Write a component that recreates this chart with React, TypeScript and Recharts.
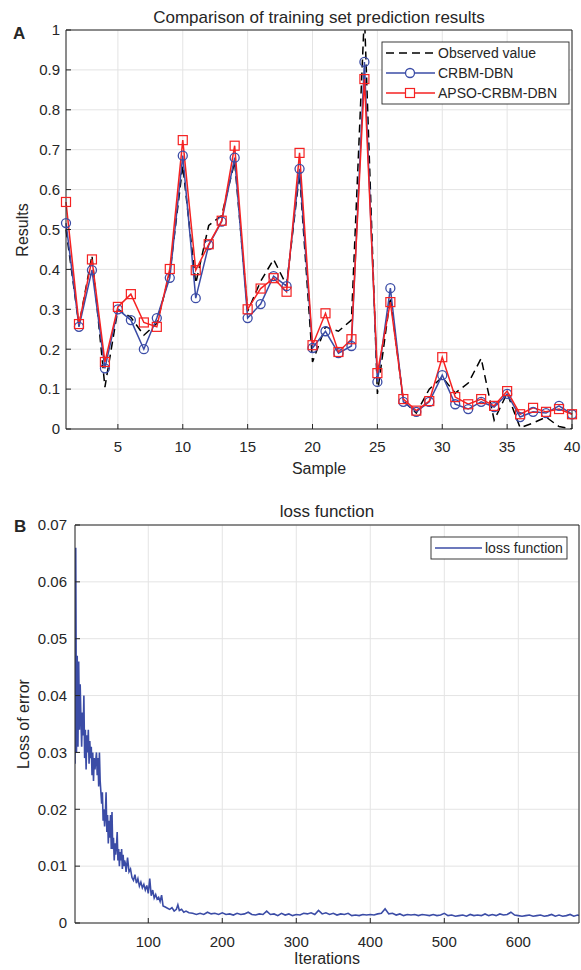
import React from 'react';
import {
  LineChart,
  Line,
  XAxis,
  YAxis,
  CartesianGrid,
  Customized
} from 'recharts';

const FONT = '"Liberation Sans", Arial, Helvetica, sans-serif';
const INK = '#262626';
const GRID = '#e4e4e4';
const BLUE = '#3b4ca6';
const RED = '#f52222';

// ---- chart A: training set prediction ----
const sampleIds = [
  1, 2, 3, 4, 5, 6, 7, 8, 9, 10, 11, 12, 13, 14, 15, 16, 17, 18, 19, 20,
  21, 22, 23, 24, 25, 26, 27, 28, 29, 30, 31, 32, 33, 34, 35, 36, 37, 38, 39, 40
];
const observedValues = [
  0.50, 0.26, 0.435, 0.105, 0.30, 0.28, 0.235, 0.265, 0.39, 0.66,
  0.365, 0.51, 0.535, 0.67, 0.295, 0.37, 0.425, 0.36, 0.64, 0.168,
  0.256, 0.245, 0.273, 1.04, 0.088, 0.33, 0.07, 0.04, 0.10, 0.13,
  0.09, 0.115, 0.177, 0.022, 0.09, 0.003, 0.015, 0.03, 0.006, 0.0
];
const crbmValues = [
  0.516, 0.256, 0.398, 0.152, 0.300, 0.273, 0.200, 0.278, 0.379, 0.685,
  0.328, 0.461, 0.520, 0.680, 0.278, 0.313, 0.383, 0.358, 0.652, 0.203,
  0.245, 0.190, 0.208, 0.920, 0.118, 0.353, 0.068, 0.043, 0.068, 0.135,
  0.062, 0.050, 0.068, 0.055, 0.088, 0.030, 0.043, 0.040, 0.058, 0.037
];
const apsoValues = [
  0.569, 0.263, 0.425, 0.168, 0.306, 0.338, 0.267, 0.256, 0.401, 0.724,
  0.398, 0.463, 0.522, 0.710, 0.300, 0.352, 0.378, 0.344, 0.692, 0.210,
  0.290, 0.193, 0.225, 0.877, 0.140, 0.318, 0.075, 0.046, 0.070, 0.180,
  0.080, 0.062, 0.075, 0.058, 0.095, 0.037, 0.053, 0.043, 0.050, 0.037
];
const sampleTicks = [5, 10, 15, 20, 25, 30, 35, 40];
const resultTicks = [0, 0.1, 0.2, 0.3, 0.4, 0.5, 0.6, 0.7, 0.8, 0.9, 1];

// ---- chart B: loss function ----
const lossIterations = [
  1, 2, 3, 4, 5, 6, 7, 8, 9, 10, 11, 12, 13, 14, 15, 16, 17, 18, 19, 20,
  21, 22, 23, 24, 25, 26, 27, 28, 30, 31, 32, 33, 34, 35, 36, 37, 38, 39, 40,
  41, 42, 43, 44, 45, 46, 47, 48, 49, 50, 51, 52, 53, 54, 55, 56, 57, 58, 59, 60,
  61, 62, 63, 64, 65, 66, 67, 68, 69, 70, 72, 74, 76, 78, 80, 82, 84, 86, 88, 90,
  92, 94, 96, 98, 100, 102, 104, 106, 108, 110, 112, 114, 116, 118, 120, 123, 126,
  129, 132, 135, 138, 140, 142, 145, 148, 151, 155, 160, 165, 170, 175, 180, 185,
  190, 195, 200, 205, 210, 215, 220, 225, 230, 235, 240, 245, 250, 255, 260, 265,
  270, 275, 280, 285, 290, 295, 300, 305, 310, 315, 320, 325, 330, 335, 340, 345,
  350, 355, 360, 365, 370, 375, 380, 385, 390, 395, 400, 405, 410, 415, 420, 425,
  430, 435, 440, 445, 450, 455, 460, 465, 470, 475, 480, 485, 490, 495, 500, 505,
  510, 515, 520, 525, 530, 535, 540, 545, 550, 555, 560, 565, 570, 575, 580, 585,
  590, 595, 600, 605, 610, 615, 620, 625, 630, 635, 640, 645, 650, 655, 660, 665,
  670, 675, 680, 682
];
const lossValues = [
  0.028, 0.066, 0.030, 0.047, 0.031, 0.046, 0.034, 0.042, 0.036, 0.031,
  0.037, 0.033, 0.040, 0.029, 0.034, 0.027, 0.033, 0.030, 0.034, 0.028,
  0.032, 0.029, 0.031, 0.026, 0.030, 0.025, 0.029, 0.027, 0.030, 0.026,
  0.029, 0.024, 0.030, 0.025, 0.023, 0.021, 0.023, 0.018, 0.020,
  0.017, 0.019, 0.023, 0.016, 0.019, 0.014, 0.018, 0.015, 0.019, 0.013,
  0.0195, 0.013, 0.015, 0.011, 0.014, 0.012, 0.0135, 0.016, 0.011, 0.013,
  0.010, 0.0125, 0.011, 0.013, 0.0095, 0.012, 0.010, 0.011, 0.0105, 0.009,
  0.0115, 0.009, 0.0095, 0.008, 0.0075, 0.0085, 0.007, 0.0078, 0.0065, 0.0072,
  0.0062, 0.0068, 0.0058, 0.0066, 0.0052, 0.0078, 0.0048, 0.0058, 0.0044, 0.005,
  0.0042, 0.0045, 0.0038, 0.0049, 0.0030, 0.0028, 0.0026,
  0.0024, 0.0027, 0.0021, 0.0024, 0.0032, 0.0022, 0.0024, 0.0019, 0.0021, 0.0018,
  0.0017, 0.0015, 0.0017, 0.0015, 0.0019, 0.0016,
  0.0017, 0.0015, 0.0018, 0.0015, 0.0016, 0.0014, 0.0017, 0.0015, 0.0016, 0.0019,
  0.0015, 0.0014, 0.0016, 0.0015, 0.0021, 0.0015,
  0.0016, 0.0013, 0.0017, 0.0014, 0.0016, 0.0013, 0.0015, 0.0014, 0.0017, 0.0016,
  0.0018, 0.0015, 0.0022, 0.0016, 0.0018, 0.0015,
  0.0017, 0.0014, 0.0016, 0.0015, 0.0017, 0.0013, 0.0014, 0.0013, 0.0015, 0.0014,
  0.0015, 0.0014, 0.0016, 0.0017, 0.0025, 0.0016,
  0.0017, 0.0014, 0.0016, 0.0013, 0.0015, 0.0014, 0.0015, 0.0013, 0.0015, 0.0014,
  0.0013, 0.0015, 0.0013, 0.0014, 0.0017, 0.0013,
  0.0014, 0.0012, 0.0013, 0.0014, 0.0012, 0.0015, 0.0013, 0.0014, 0.0013, 0.0016,
  0.0013, 0.0015, 0.0013, 0.0016, 0.0014, 0.0015,
  0.0019, 0.0014, 0.0013, 0.0012, 0.0013, 0.0014, 0.0012, 0.0013, 0.0014, 0.0012,
  0.0013, 0.0015, 0.0012, 0.0014, 0.0012, 0.0013,
  0.0015, 0.0012, 0.0014, 0.0013
];
const iterationTicks = [100, 200, 300, 400, 500, 600];
const lossTicks = [0, 0.01, 0.02, 0.03, 0.04, 0.05, 0.06, 0.07];

const predictionRows = sampleIds.map((s, i) => ({
  sample: s,
  observed: observedValues[i],
  crbm: crbmValues[i],
  apso: apsoValues[i]
}));

const lossRows = lossIterations.map((it, i) => ({ it, loss: lossValues[i] }));

const tickStyle = { fontSize: 15, fill: INK, fontFamily: FONT };

const SquareDot = (props: any) => {
  const { cx, cy, index } = props;
  if (cx == null || cy == null) return <g key={index} />;
  return (
    <rect key={index} x={cx - 4.5} y={cy - 4.5} width={9} height={9}
      fill="none" stroke={RED} strokeWidth={1.2} />
  );
};

const TopOverlay = () => (
  <g fontFamily={FONT} fill={INK}>
    <text x={319} y={23} textAnchor="middle" fontSize={17}>
      Comparison of training set prediction results
    </text>
    <text x={13} y={39} fontSize={17} fontWeight="bold">A</text>
    <text x={319} y={474} textAnchor="middle" fontSize={16}>Sample</text>
    <text transform="translate(28,230) rotate(-90)" textAnchor="middle" fontSize={16}>Results</text>
    <rect x={382} y={42} width={187} height={62} fill="#fff" stroke={INK} strokeWidth={0.9} />
    <line x1={386} x2={435} y1={53} y2={53} stroke="#000" strokeWidth={1.5} strokeDasharray="8 5" />
    <text x={438} y={58} fontSize={14}>Observed value</text>
    <line x1={386} x2={435} y1={73} y2={73} stroke={BLUE} strokeWidth={1.5} />
    <circle cx={410} cy={73} r={4.5} fill="#fff" stroke={BLUE} strokeWidth={1.3} />
    <text x={438} y={78} fontSize={14}>CRBM-DBN</text>
    <line x1={386} x2={435} y1={93} y2={93} stroke={RED} strokeWidth={1.5} />
    <rect x={405.5} y={88.5} width={9} height={9} fill="#fff" stroke={RED} strokeWidth={1.2} />
    <text x={438} y={98} fontSize={14}>APSO-CRBM-DBN</text>
  </g>
);

const BottomOverlay = () => (
  <g fontFamily={FONT} fill={INK}>
    <text x={327} y={27} textAnchor="middle" fontSize={17}>loss function</text>
    <text x={14} y={42} fontSize={17} fontWeight="bold">B</text>
    <text x={327} y={474} textAnchor="middle" fontSize={16}>Iterations</text>
    <text transform="translate(29,234) rotate(-90)" textAnchor="middle" fontSize={16}>Loss of error</text>
    <rect x={431} y={47} width={136} height={22} fill="#fff" stroke={INK} strokeWidth={0.9} />
    <line x1={435} x2={482} y1={58} y2={58} stroke={BLUE} strokeWidth={1.5} />
    <text x={485} y={63} fontSize={14}>loss function</text>
  </g>
);

export default function App() {
  return (
    <div style={{ position: 'absolute', left: 0, top: 0, width: 581, height: 970, background: '#fff' }}>
      <LineChart
        width={581}
        height={480}
        data={predictionRows}
        margin={{ top: 29, right: 8, left: 0, bottom: 0 }}
      >
        <CartesianGrid stroke={GRID} strokeWidth={1} />
        <XAxis
          dataKey="sample"
          type="number"
          domain={[1, 40]}
          ticks={sampleTicks}
          interval={0}
          height={51}
          tick={tickStyle}
          tickSize={-5}
          tickMargin={17}
          axisLine={{ stroke: INK }}
          tickLine={{ stroke: INK }}
        />
        <XAxis
          xAxisId="top"
          orientation="top"
          type="number"
          domain={[1, 40]}
          ticks={sampleTicks}
          interval={0}
          height={1}
          tick={false}
          tickSize={-5}
          axisLine={{ stroke: INK }}
          tickLine={{ stroke: INK }}
        />
        <YAxis
          type="number"
          domain={[0, 1]}
          ticks={resultTicks}
          interval={0}
          allowDataOverflow
          width={66}
          tick={tickStyle}
          tickSize={-5}
          tickMargin={11}
          axisLine={{ stroke: INK }}
          tickLine={{ stroke: INK }}
        />
        <YAxis
          yAxisId="right"
          orientation="right"
          type="number"
          domain={[0, 1]}
          ticks={resultTicks}
          interval={0}
          width={1}
          tick={false}
          tickSize={-5}
          axisLine={{ stroke: INK }}
          tickLine={{ stroke: INK }}
        />
        <Line
          type="linear"
          dataKey="observed"
          stroke="#000"
          strokeWidth={1.5}
          strokeDasharray="8 5"
          dot={false}
          isAnimationActive={false}
        />
        <Line
          type="linear"
          dataKey="crbm"
          stroke={BLUE}
          strokeWidth={1.5}
          dot={{ r: 4.5, fill: 'none', stroke: BLUE, strokeWidth: 1.3 }}
          isAnimationActive={false}
        />
        <Line
          type="linear"
          dataKey="apso"
          stroke={RED}
          strokeWidth={1.5}
          dot={SquareDot}
          isAnimationActive={false}
        />
        <Customized component={TopOverlay} />
      </LineChart>

      <div style={{ position: 'absolute', left: 0, top: 490 }}>
        <LineChart
          width={581}
          height={480}
          data={lossRows}
          margin={{ top: 34, right: 1, left: 0, bottom: 0 }}
        >
          <CartesianGrid stroke={GRID} strokeWidth={1} />
          <XAxis
            dataKey="it"
            type="number"
            domain={[1, 682]}
            ticks={iterationTicks}
            interval={0}
            allowDataOverflow
            height={47}
            tick={tickStyle}
            tickSize={-5}
            tickMargin={18}
            axisLine={{ stroke: INK }}
            tickLine={{ stroke: INK }}
          />
          <XAxis
            xAxisId="top"
            orientation="top"
            type="number"
            domain={[1, 682]}
            ticks={iterationTicks}
            interval={0}
            height={1}
            tick={false}
            tickSize={-5}
            axisLine={{ stroke: INK }}
            tickLine={{ stroke: INK }}
          />
          <YAxis
            type="number"
            domain={[0, 0.07]}
            ticks={lossTicks}
            interval={0}
            allowDataOverflow
            width={75}
            tick={tickStyle}
            tickSize={-5}
            tickMargin={13}
            axisLine={{ stroke: INK }}
            tickLine={{ stroke: INK }}
          />
          <YAxis
            yAxisId="right"
            orientation="right"
            type="number"
            domain={[0, 0.07]}
            ticks={lossTicks}
            interval={0}
            width={1}
            tick={false}
            tickSize={-5}
            axisLine={{ stroke: INK }}
            tickLine={{ stroke: INK }}
          />
          <Line
            type="linear"
            dataKey="loss"
            stroke={BLUE}
            strokeWidth={1.6}
            dot={false}
            isAnimationActive={false}
          />
          <Customized component={BottomOverlay} />
        </LineChart>
      </div>
    </div>
  );
}
